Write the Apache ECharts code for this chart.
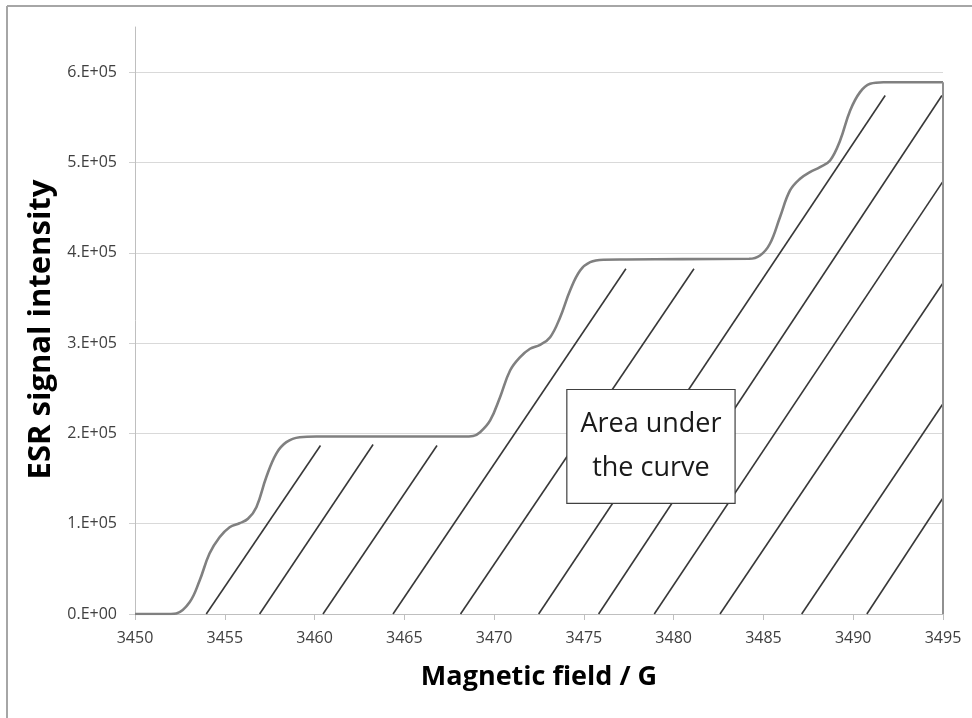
<!DOCTYPE html>
<html>
<head>
<meta charset="utf-8">
<title>ESR signal intensity vs magnetic field</title>
<script src="https://cdn.jsdelivr.net/npm/echarts@6/dist/echarts.min.js"></script>
<style>
  html, body { margin: 0; padding: 0; background: #ffffff; }
  #chart { width: 972px; height: 718px; }
</style>
</head>
<body>
<div id="chart"></div>
<script>
// Integrated ESR spectrum (magnetic field in gauss, signal in arbitrary units)
const fieldG = [
  3450, 3452.0, 3452.3, 3453.04, 3453.6, 3454.15, 3454.71, 3455.27, 3455.82, 3456.29,
  3456.76, 3457.31, 3457.87, 3458.43, 3459.17, 3460.1, 3464.0, 3468.3, 3468.83, 3469.22,
  3469.78, 3470.33, 3470.89, 3471.45, 3472.0, 3472.56, 3473.12, 3473.68, 3474.23, 3474.79,
  3475.35, 3476.09, 3477.4, 3480.5, 3484.2, 3484.81, 3485.36, 3485.92, 3486.48, 3487.04,
  3487.59, 3488.15, 3488.71, 3489.27, 3489.83, 3490.38, 3490.94, 3491.68, 3493.0, 3495
];
const intensity = [
  0, 0, 500, 13000, 37100, 67000, 85000, 96100, 100500, 105400,
  118300, 151500, 177700, 190300, 195800, 196600, 196600, 196600, 197200, 201300,
  214300, 240100, 269600, 284400, 293700, 298100, 306500, 328700, 358300, 380400,
  389600, 392300, 392600, 393000, 393300, 397000, 410000, 439400, 469000, 482000,
  489300, 494800, 502200, 524400, 557600, 577900, 587100, 588900, 588900, 588900
];

// Hatching of the integrated area: each stroke runs from the baseline up to its end point
const hatchStartG = [3453.97, 3456.94, 3460.47, 3464.37, 3468.13, 3472.48, 3475.82, 3478.92, 3482.58, 3487.13, 3490.76];
const hatchEndG   = [3460.33, 3463.26, 3466.82, 3477.34, 3481.13, 3491.78, 3494.94, 3494.97, 3494.97, 3494.97, 3494.97];
const hatchEndY   = [186600, 187700, 186600, 382300, 382300, 574200, 574200, 478200, 365700, 232000, 127600];

// Callout box corners (field, intensity) and its text
const boxField = [3474.05, 3483.42];
const boxSignal = [248600, 122400];
const boxText = 'Area under\nthe curve';

// Axis ticks
const xTickValues = [3450, 3455, 3460, 3465, 3470, 3475, 3480, 3485, 3490, 3495];
const xTickLabels = ['3450', '3455', '3460', '3465', '3470', '3475', '3480', '3485', '3490', '3495'];
const yTickValues = [0, 100000, 200000, 300000, 400000, 500000, 600000];
const yTickLabels = ['0.E+00', '1.E+05', '2.E+05', '3.E+05', '4.E+05', '5.E+05', '6.E+05'];

const FONT = '"Open Sans", "Noto Sans", sans-serif';

const curve = fieldG.map((g, i) => [g, intensity[i]]);
const lastIdx = fieldG.length - 1;

const hatchSeries = hatchStartG.map((g0, i) => ({
  type: 'line',
  name: 'hatch' + i,
  data: [[g0, 0], [hatchEndG[i], hatchEndY[i]]],
  showSymbol: false,
  silent: true,
  z: 2,
  lineStyle: { color: '#383838', width: 1.6 }
}));

const chart = echarts.init(document.getElementById('chart'), null, { renderer: 'canvas' });

chart.setOption({
  animation: false,
  backgroundColor: '#ffffff',
  grid: { left: 135, right: 29, top: 27, bottom: 104 },
  xAxis: {
    type: 'value',
    min: 3450,
    max: 3495,
    interval: 5,
    name: 'Magnetic field / G',
    nameLocation: 'middle',
    nameGap: 50,
    nameTextStyle: { fontFamily: FONT, fontWeight: 'bold', fontSize: 27, color: '#000000' },
    axisLine: { show: true, onZero: false, lineStyle: { color: '#bfbfbf', width: 1 } },
    axisTick: { show: true, inside: false, length: 6, lineStyle: { color: '#bfbfbf' } },
    axisLabel: {
      margin: 16,
      fontFamily: FONT,
      fontSize: 16,
      color: '#404040',
      formatter: (v) => {
        const k = xTickValues.indexOf(v);
        return k >= 0 ? xTickLabels[k] : '';
      }
    },
    splitLine: { show: false }
  },
  yAxis: {
    type: 'value',
    min: 0,
    max: 650000,
    interval: 100000,
    name: 'ESR signal intensity',
    nameLocation: 'middle',
    nameRotate: 90,
    nameGap: 78,
    nameTextStyle: { fontFamily: FONT, fontWeight: 'bold', fontSize: 31, color: '#000000', padding: [0, 18, 0, 0] },
    axisLine: { show: true, lineStyle: { color: '#bfbfbf', width: 1 } },
    axisTick: { show: true, length: 6, lineStyle: { color: '#d0d0d0' }, customValues: yTickValues },
    axisLabel: {
      margin: 18,
      fontFamily: FONT,
      fontSize: 16,
      color: '#404040',
      customValues: yTickValues,
      formatter: (v) => {
        const k = yTickValues.indexOf(v);
        return k >= 0 ? yTickLabels[k] : '';
      }
    },
    splitLine: { show: true, lineStyle: { color: '#d9d9d9', width: 1.2 } }
  },
  series: [
    ...hatchSeries,
    {
      type: 'line',
      name: 'integrated signal',
      data: curve,
      showSymbol: false,
      smooth: 0.4,
      silent: true,
      z: 3,
      lineStyle: { color: '#808080', width: 2.6 }
    },
    {
      type: 'line',
      name: 'right edge',
      data: [[fieldG[lastIdx], intensity[lastIdx]], [fieldG[lastIdx], 0]],
      showSymbol: false,
      silent: true,
      z: 3,
      lineStyle: { color: '#909090', width: 2 }
    },
    {
      type: 'line',
      name: 'callout',
      data: [],
      silent: true,
      z: 6,
      markArea: {
        silent: true,
        z: 6,
        itemStyle: { color: '#ffffff', borderColor: '#404040', borderWidth: 1.2 },
        label: {
          show: true,
          position: 'inside',
          formatter: boxText,
          fontFamily: FONT,
          fontSize: 27,
          lineHeight: 44,
          color: '#1a1a1a'
        },
        emphasis: { disabled: true },
        data: [[
          { coord: [boxField[0], boxSignal[0]] },
          { coord: [boxField[1], boxSignal[1]] }
        ]]
      }
    }
  ],
  graphic: [
    { type: 'line', silent: true, shape: { x1: 7, y1: 6, x2: 972, y2: 6 }, style: { stroke: '#a6a6a6', lineWidth: 2 } },
    { type: 'line', silent: true, shape: { x1: 7, y1: 6, x2: 7, y2: 718 }, style: { stroke: '#a6a6a6', lineWidth: 2 } }
  ]
});
</script>
</body>
</html>
